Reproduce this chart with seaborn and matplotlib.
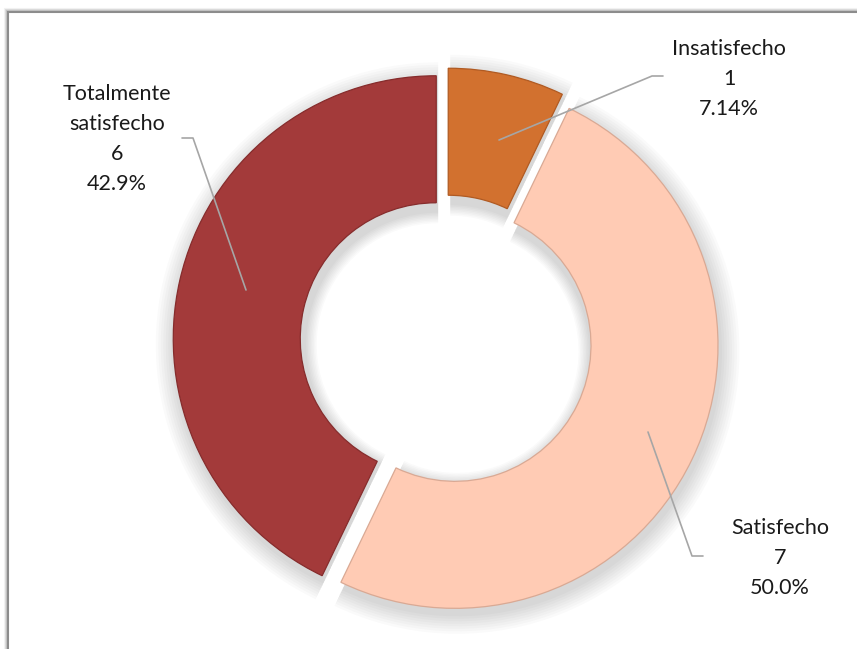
import matplotlib
matplotlib.use("Agg")
import matplotlib.pyplot as plt
import matplotlib.patches as mpatches
import seaborn as sns

sns.set_style("white")
plt.rcParams["font.family"] = ["Lato", "DejaVu Sans"]

# data
categorias = ["Insatisfecho", "Satisfecho", "Totalmente\nsatisfecho"]
valores = [1, 7, 6]
porcentajes = ["7.14%", "50.0%", "42.9%"]
colores = ["#D2712F", "#FFCBB4", "#A33A3A"]
bordes = ["#b05a22", "#d9a994", "#862c2c"]

W, H = 857, 649
fig = plt.figure(figsize=(W / 100, H / 100), dpi=100)
ax = fig.add_axes([0, 0, 1, 1])

cx, cy = 446, H - 341
R = 263
ancho = 127
expl = [10, 10, 10]

# soft shadow behind the ring
for k in range(8):
    ax.pie(valores, colors=["black"] * 3, startangle=90, counterclock=False,
           radius=R + 2 + k * 2.5, center=(cx + 2, cy - 6), explode=expl,
           wedgeprops=dict(width=ancho + 6 + k * 4, edgecolor="none", alpha=0.018),
           frame=True)

wedges, _ = ax.pie(valores, colors=colores, startangle=90, counterclock=False,
                   radius=R, center=(cx, cy), explode=expl,
                   wedgeprops=dict(width=ancho, linewidth=0.9), frame=True)
for w, b in zip(wedges, bordes):
    w.set_edgecolor(b)

ax.set_xlim(0, W)
ax.set_ylim(0, H)
ax.set_aspect("equal")
ax.axis("off")

# frame with a light shadow (left and top edges visible)
for i, a in enumerate([0.05, 0.09, 0.15]):
    ax.add_patch(mpatches.Rectangle((8 - 3 + i, -20), W + 40, H - 12 + 20 + 3 - i,
                                    fill=False, edgecolor="black", alpha=a, lw=1.5))
ax.add_patch(mpatches.Rectangle((8, -20), W + 40, H - 12 + 20,
                                fill=False, edgecolor="#8c8c8c", lw=1.5))

# leader lines (pixel coords, y from top)
lineas = [
    [(499, 140), (652, 76), (663, 76)],
    [(648, 432), (692, 556), (703, 556)],
    [(246, 290), (193, 138), (182, 138)],
]
for pts in lineas:
    ax.plot([p[0] for p in pts], [H - p[1] for p in pts], color="#a6a6a6", lw=1.2)

posiciones = [(729, 79), (780, 558), (117, 139)]
for cat, val, pct, (px, py) in zip(categorias, valores, porcentajes, posiciones):
    ax.text(px, H - py, f"{cat}\n{val}\n{pct}", ha="center", va="center",
            fontsize=15.5, linespacing=1.62, color="#1a1a1a")

fig.savefig("out.png", dpi=100)
